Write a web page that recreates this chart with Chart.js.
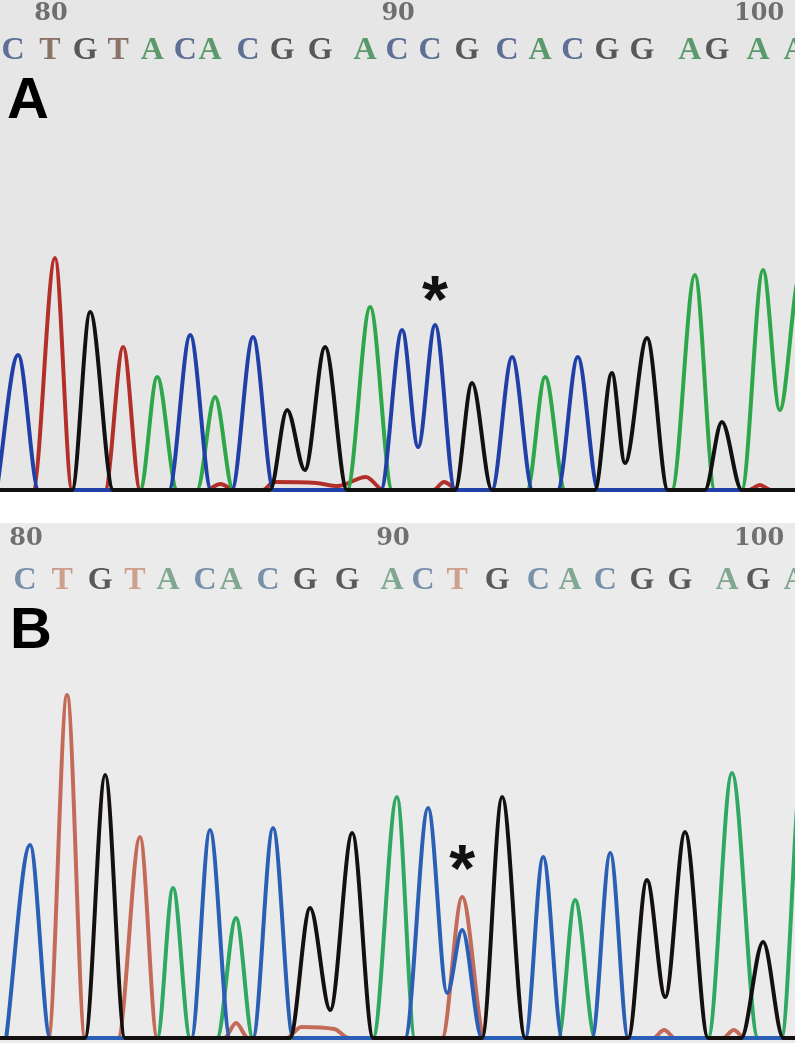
<!DOCTYPE html>
<html>
<head>
<meta charset="utf-8">
<script src="https://cdn.jsdelivr.net/npm/chart.js@4.4.1/dist/chart.umd.min.js"></script>
<style>
  body { margin: 0; background: #fff; width: 795px; height: 1043px; position: relative; overflow: hidden; }
  .panel { position: absolute; left: 0; width: 795px; }
  #panelA { top: 0; height: 492px; background: #e6e6e6; }
  #panelB { top: 523px; height: 520px; background: #ebebeb; }
  canvas { display: block; }
</style>
</head>
<body>
<div class="panel" id="panelA"><canvas id="chartA" width="795" height="492"></canvas></div>
<div class="panel" id="panelB"><canvas id="chartB" width="795" height="520"></canvas></div>
<script>
// ---- Painel A: chamadas de base (posição 79 em diante) ----
const seqA = 'CTGTACACGGACCGCACGGAGAA';
const callPosA = [79.00, 80.04, 81.03, 81.96, 82.92, 83.85, 84.55, 85.62, 86.58, 87.65, 88.92, 89.82,
                  90.75, 91.79, 92.92, 93.85, 94.77, 95.73, 96.72, 98.07, 98.83, 99.99, 101.03];
const rulerLabels = ['80', '90', '100'];
const rulerIdxA = [1, 11, 21];
const markA = [90.75, 165]; // pico marcado com *

// traços [posição, sinal]
const traceA_C = [[78.40, 0], [79.00, 135], [79.58, 0], [83.25, 0], [83.85, 155], [84.44, 0],
                  [85.02, 0], [85.62, 153], [86.20, 0], [89.22, 0], [89.82, 160], [90.27, 43],
                  [90.75, 165], [91.31, 0], [92.35, 0], [92.92, 133], [93.50, 0], [94.20, 0],
                  [94.77, 133], [95.35, 0], [101.2, 0]];
const traceA_G = [[78.40, 0], [80.52, 0], [81.03, 178], [81.68, 0], [86.10, 0], [86.58, 80],
                  [87.08, 20], [87.65, 143], [88.27, 0], [91.31, 0], [91.79, 107], [92.35, 0],
                  [95.25, 0], [95.73, 117], [96.10, 27], [96.72, 152], [97.31, 0], [98.35, 0],
                  [98.83, 68], [99.39, 0], [101.2, 0]];
const traceA_A = [[78.40, 0], [82.44, 0], [82.92, 113], [83.48, 0], [84.04, 0], [84.55, 93],
                  [85.06, 0], [88.27, 0], [88.92, 183], [89.54, 0], [93.34, 0], [93.85, 113],
                  [94.41, 0], [97.42, 0], [98.07, 215], [98.63, 0], [99.39, 0], [99.99, 220],
                  [100.46, 80], [101.03, 215], [101.6, 0]];
const traceA_T = [[78.40, 0], [79.42, 0], [80.04, 232], [80.52, 0], [81.45, 0], [81.96, 143],
                  [82.44, 0], [84.30, 0], [84.70, 6], [85.10, 0], [85.90, 0], [86.20, 8],
                  [87.40, 7], [88.00, 4], [88.80, 13], [89.30, 0], [90.70, 0], [91.00, 8],
                  [91.40, 0], [99.60, 0], [99.90, 5], [100.20, 0], [101.2, 0]];

// ---- Painel B ----
const seqB = 'CTGTACACGGACTGCACGGAGA';
const callPosB = [79.00, 80.01, 81.05, 82.00, 82.90, 83.91, 84.62, 85.63, 86.64, 87.79, 89.01, 89.86,
                  90.79, 91.88, 93.00, 93.87, 94.83, 95.83, 96.87, 98.15, 99.00, 100.01];
const rulerIdxB = [0, 10, 20];
const markB = [90.79, 141];

const traceB_C = [[78.35, 0], [79.00, 193], [79.55, 0], [83.40, 0], [83.91, 208], [84.46, 0],
                  [85.08, 0], [85.63, 210], [86.18, 0], [89.23, 0], [89.86, 230], [90.38, 45],
                  [90.79, 108], [91.33, 0], [92.51, 0], [93.00, 181], [93.52, 0], [94.33, 0],
                  [94.83, 185], [95.32, 0], [100.5, 0]];
const traceB_G = [[78.10, 0], [80.50, 0], [81.05, 263], [81.59, 0], [86.09, 0], [86.64, 130],
                  [87.19, 28], [87.79, 205], [88.36, 0], [91.33, 0], [91.88, 241], [92.51, 0],
                  [95.32, 0], [95.83, 158], [96.33, 41], [96.87, 206], [97.50, 0], [98.40, 0],
                  [99.00, 96], [99.55, 0], [100.5, 0]];
const traceB_A = [[78.10, 0], [82.47, 0], [82.90, 150], [83.37, 0], [84.10, 0], [84.62, 120],
                  [85.08, 0], [88.36, 0], [89.01, 241], [89.50, 0], [93.41, 0], [93.87, 138],
                  [94.42, 0], [97.50, 0], [98.15, 265], [98.86, 0], [99.50, 0], [100.05, 265],
                  [100.6, 0]];
const traceB_T = [[78.10, 0], [79.50, 0], [80.01, 343], [80.50, 0], [81.40, 0], [82.00, 201],
                  [82.47, 0], [84.30, 0], [84.62, 15], [84.95, 0], [86.00, 0], [86.40, 11],
                  [87.30, 9], [87.70, 0], [90.24, 0], [90.79, 141], [91.41, 0], [96.00, 0],
                  [96.30, 8], [96.60, 0], [97.90, 0], [98.20, 8], [98.50, 0], [100.5, 0]];

function toPoints(arr) {
    return arr.map(p => ({ x: p[0], y: p[1] }));
}

function dataset(arr, color, order) {
    return {
        data: toPoints(arr),
        borderColor: color,
        borderWidth: 4,
        pointRadius: 0,
        fill: false,
        cubicInterpolationMode: 'monotone',
        order: order
    };
}

function drawStar(ctx, cx, cy, w) {
    ctx.font = 'bold 100px "Liberation Sans"';
    let m = ctx.measureText('*');
    const size = 100 * w / (m.actualBoundingBoxLeft + m.actualBoundingBoxRight);
    ctx.font = 'bold ' + size + 'px "Liberation Sans"';
    m = ctx.measureText('*');
    ctx.textAlign = 'left';
    ctx.textBaseline = 'alphabetic';
    ctx.fillStyle = '#111';
    ctx.fillText('*', cx - (m.actualBoundingBoxRight - m.actualBoundingBoxLeft) / 2,
                 cy + (m.actualBoundingBoxAscent - m.actualBoundingBoxDescent) / 2);
}

function seqPlugin(cfg) {
    return {
        id: 'seqText',
        afterDatasetsDraw(chart) {
            const ctx = chart.ctx;
            const xs = chart.scales.x, ys = chart.scales.y;
            ctx.save();
            ctx.textAlign = 'center';
            ctx.textBaseline = 'middle';
            // régua
            ctx.font = 'bold 24px "DejaVu Serif"';
            ctx.fillStyle = cfg.rulerColor;
            cfg.rulerIdx.forEach((idx, i) => {
                ctx.fillText(rulerLabels[i], xs.getPixelForValue(cfg.calls[idx]) - 4, cfg.rulerY);
            });
            // sequência
            ctx.font = 'bold 32px "Liberation Serif"';
            cfg.seq.split('').forEach((b, i) => {
                ctx.fillStyle = cfg.letterColors[b];
                ctx.fillText(b, xs.getPixelForValue(cfg.calls[i]) - 5, cfg.seqY);
            });
            // letra do painel
            ctx.textAlign = 'left';
            ctx.textBaseline = 'alphabetic';
            ctx.font = 'bold 58px "Liberation Sans"';
            ctx.fillStyle = '#000';
            ctx.fillText(cfg.label, cfg.labelX, cfg.labelY);
            // asterisco
            drawStar(ctx, xs.getPixelForValue(cfg.mark[0]), ys.getPixelForValue(cfg.mark[1]) - cfg.markGap, 26);
            ctx.restore();
        }
    };
}

function makeChart(id, traces, colors, xMin, xMax, yMin, yMax, plugin) {
    return new Chart(document.getElementById(id), {
        type: 'line',
        data: {
            datasets: [
                dataset(traces.G, colors.G, 1),
                dataset(traces.C, colors.C, 2),
                dataset(traces.A, colors.A, 3),
                dataset(traces.T, colors.T, 4)
            ]
        },
        options: {
            responsive: false,
            animation: false,
            devicePixelRatio: 1,
            layout: { padding: 0 },
            scales: {
                x: { type: 'linear', min: xMin, max: xMax, display: false },
                y: { type: 'linear', min: yMin, max: yMax, display: false }
            },
            plugins: { legend: { display: false }, tooltip: { enabled: false } }
        },
        plugins: [plugin]
    });
}

makeChart('chartA',
    { C: traceA_C, G: traceA_G, A: traceA_A, T: traceA_T },
    { C: '#2040a8', G: '#111111', A: '#2ea64a', T: '#b3302a' },
    78.49, 100.89, -2, 490,
    seqPlugin({
        seq: seqA, calls: callPosA, rulerIdx: rulerIdxA, mark: markA, markGap: 37,
        rulerY: 14, seqY: 51, rulerColor: '#6e6e6e', label: 'A', labelX: 7, labelY: 118,
        letterColors: { C: '#5d6f96', T: '#8a7266', G: '#585858', A: '#5a9a6a' }
    }));

makeChart('chartB',
    { C: traceB_C, G: traceB_G, A: traceB_A, T: traceB_T },
    { C: '#2a5fb5', G: '#141010', A: '#2fa862', T: '#c46a58' },
    78.18, 99.87, -5, 515,
    seqPlugin({
        seq: seqB, calls: callPosB, rulerIdx: rulerIdxB, mark: markB, markGap: 40,
        rulerY: 16, seqY: 58, rulerColor: '#707070', label: 'B', labelX: 10, labelY: 125,
        letterColors: { C: '#7890aa', T: '#cda08e', G: '#5a5a5a', A: '#80a890' }
    }));
</script>
</body>
</html>
